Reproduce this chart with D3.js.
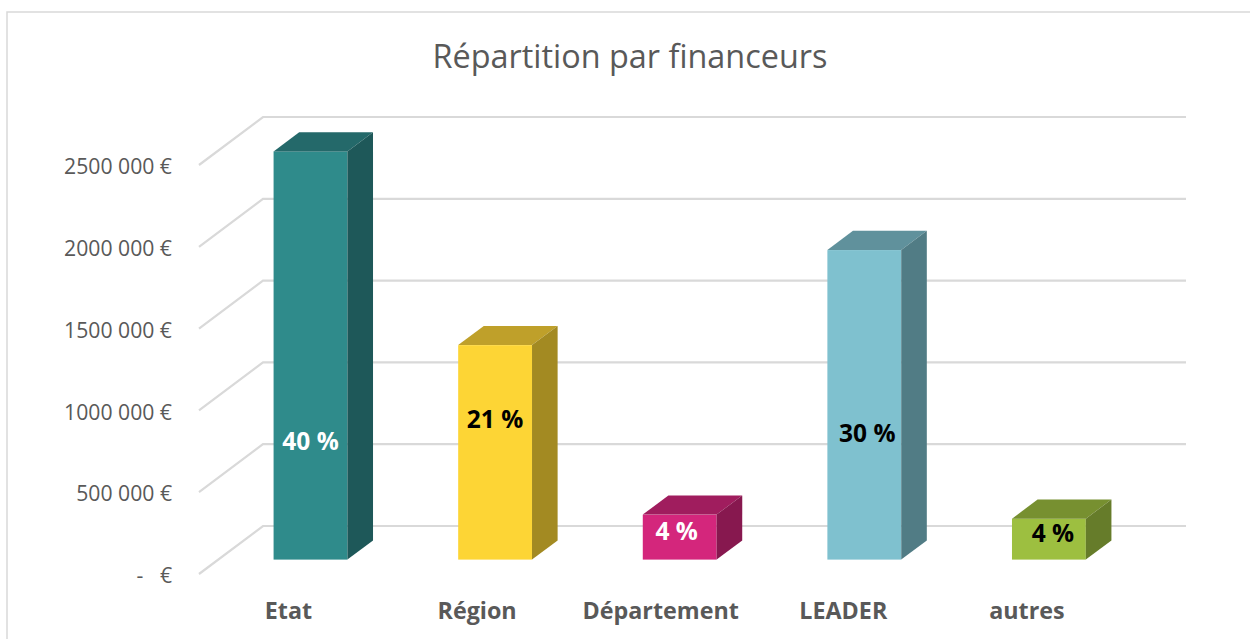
<!DOCTYPE html>
<html>
<head>
<meta charset="utf-8">
<script src="https://cdn.jsdelivr.net/npm/d3@7"></script>
<style>
  html, body { margin: 0; padding: 0; background: #fff; overflow: hidden; }
  text { font-family: "Open Sans", sans-serif; }
</style>
</head>
<body>
<svg id="chart"></svg>
<script>
const categories = ['Etat', 'Région', 'Département', 'LEADER', 'autres'];
const amounts = [2495000, 1311000, 275000, 1892000, 250000];
const shares = ['40 %', '21 %', '4 %', '30 %', '4 %'];
const tickValues = [0, 500000, 1000000, 1500000, 2000000, 2500000];
const tickLabels = ['-\u00a0\u00a0\u00a0€', '500 000 €', '1000 000 €', '1500 000 €', '2000 000 €', '2500 000 €'];
const frontColors = ['#2f8b8b', '#fdd535', '#d4267c', '#7fc1cf', '#9dbf40'];
const topColors = ['#24696a', '#bfa02a', '#a01d5e', '#60919c', '#779030'];
const sideColors = ['#1e5859', '#a38a22', '#87184f', '#517c85', '#667c2a'];
const labelColors = ['#fff', '#000', '#fff', '#000', '#000'];

const width = 1250;
const height = 639;

// floor plane: front left corner and depth of the 3d box
const floorX = 199;
const floorY = 574;
const depthX = 64;
const depthY = 48;
const plotWidth = 923;
const plotHeight = 409;

// share of the depth taken by the gap in front of a bar, and by the bar
const gapDepth = 0.3;
const barDepth = 0.4;

// the labels were placed by hand on the original, off the bar centre
const labelShift = [[0, 85], [0, -34], [-3, -7], [3, 28], [4, -7]];
const categoryShift = [-22, -18, -19, -21, -22];

const x = d3.scaleBand()
  .domain(categories)
  .range([0, plotWidth])
  .paddingInner(0.6)
  .paddingOuter(0.3);

const y = d3.scaleLinear()
  .domain([0, 2500000])
  .range([0, -plotHeight]);

const svg = d3.select('#chart')
  .attr('width', width)
  .attr('height', height);

svg.append('rect')
  .attr('x', 7)
  .attr('y', 12)
  .attr('width', width + 20)
  .attr('height', height + 20)
  .attr('fill', '#fff')
  .attr('stroke', '#d9d9d9')
  .attr('stroke-width', 1.5);

svg.append('text')
  .attr('x', 630)
  .attr('y', 68)
  .attr('text-anchor', 'middle')
  .attr('font-size', 32.4)
  .attr('fill', '#595959')
  .text('Répartition par financeurs');

// grid: one line on the side wall and one on the back wall for each tick
const grid = svg.append('g')
  .attr('fill', 'none')
  .attr('stroke', '#d9d9d9')
  .attr('stroke-width', 2.2);

grid.selectAll('path')
  .data(tickValues)
  .enter()
  .append('path')
  .attr('d', function (d) {
    const line = d3.path();
    line.moveTo(floorX, floorY + y(d));
    line.lineTo(floorX + depthX, floorY + y(d) - depthY);
    line.lineTo(floorX + depthX + plotWidth, floorY + y(d) - depthY);
    return line.toString();
  });

const yAxis = d3.axisLeft(d3.scaleLinear().domain(y.domain()).range([floorY, floorY - plotHeight]))
  .tickValues(tickValues)
  .tickSize(0)
  .tickPadding(0)
  .tickFormat(function (d, i) { return tickLabels[i]; });

svg.append('g')
  .attr('transform', 'translate(172, 2)')
  .call(yAxis)
  .call(function (g) { g.select('.domain').remove(); })
  .selectAll('text')
  .attr('font-family', '"Open Sans", sans-serif')
  .attr('font-size', 21.2)
  .attr('fill', '#595959');

const bar = svg.selectAll('g.bar')
  .data(categories)
  .enter()
  .append('g')
  .attr('class', 'bar');

const baseLeft = function (d) { return floorX + gapDepth * depthX + x(d); };
const baseY = floorY - gapDepth * depthY;
const sideX = barDepth * depthX;
const sideY = barDepth * depthY;

bar.append('rect')
  .attr('x', baseLeft)
  .attr('y', function (d, i) { return baseY + y(amounts[i]); })
  .attr('width', x.bandwidth())
  .attr('height', function (d, i) { return -y(amounts[i]); })
  .attr('fill', function (d, i) { return frontColors[i]; });

bar.append('polygon')
  .attr('fill', function (d, i) { return topColors[i]; })
  .attr('points', function (d, i) {
    const l = baseLeft(d);
    const r = l + x.bandwidth();
    const t = baseY + y(amounts[i]);
    return [[l, t], [l + sideX, t - sideY], [r + sideX, t - sideY], [r, t]].join(' ');
  });

bar.append('polygon')
  .attr('fill', function (d, i) { return sideColors[i]; })
  .attr('points', function (d, i) {
    const r = baseLeft(d) + x.bandwidth();
    const t = baseY + y(amounts[i]);
    return [[r, t], [r + sideX, t - sideY], [r + sideX, baseY - sideY], [r, baseY]].join(' ');
  });

bar.append('text')
  .attr('text-anchor', 'middle')
  .attr('dominant-baseline', 'central')
  .attr('font-size', 24.5)
  .attr('font-weight', 700)
  .attr('fill', function (d, i) { return labelColors[i]; })
  .attr('x', function (d, i) { return baseLeft(d) + x.bandwidth() / 2 + labelShift[i][0]; })
  .attr('y', function (d, i) { return baseY + y(amounts[i]) / 2 + labelShift[i][1]; })
  .text(function (d, i) { return shares[i]; });

bar.append('text')
  .attr('text-anchor', 'middle')
  .attr('font-size', 23.3)
  .attr('font-weight', 700)
  .attr('fill', '#595959')
  .attr('x', function (d, i) { return baseLeft(d) + x.bandwidth() / 2 + categoryShift[i]; })
  .attr('y', 619)
  .text(function (d) { return d; });
</script>
</body>
</html>
